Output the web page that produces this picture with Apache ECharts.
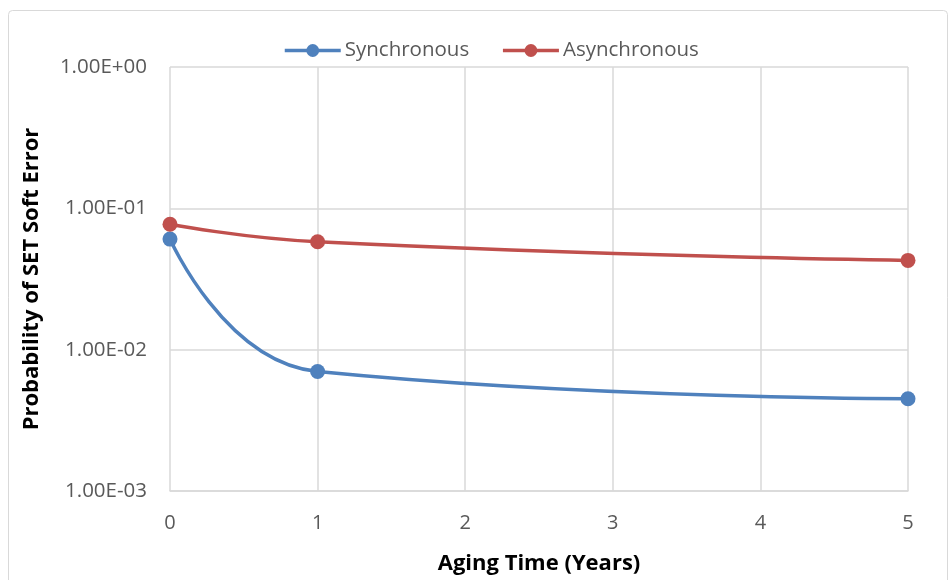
<!DOCTYPE html>
<html>
<head>
<meta charset="utf-8">
<script src="https://cdn.jsdelivr.net/npm/echarts@6/dist/echarts.min.js"></script>
<style>
html,body{margin:0;padding:0;background:#fff;}
#chart{width:950px;height:580px;}
</style>
</head>
<body>
<div id="chart"></div>
<script>
const years = [0, 1, 5];
const synchronous = [0.0606, 0.0070, 0.0045];
const asynchronous = [0.0772, 0.058, 0.0428];
const seriesNames = ['Synchronous', 'Asynchronous'];
const xTitle = 'Aging Time (Years)';
const yTitle = 'Probability of SET Soft Error';

const FONT = '"Open Sans", sans-serif';

function sci(v) {
  const e = Math.round(Math.log10(v));
  const m = v / Math.pow(10, e);
  const s = e < 0 ? '-' : '+';
  const a = Math.abs(e);
  return m.toFixed(2) + 'E' + s + (a < 10 ? '0' + a : '' + a);
}

const chart = echarts.init(document.getElementById('chart'), null, {renderer: 'canvas'});
chart.setOption({
  animation: false,
  backgroundColor: '#fff',
  graphic: [{
    type: 'rect',
    shape: {x: 8.5, y: 10.5, width: 939, height: 600, r: 4},
    style: {fill: 'none', stroke: '#d9d9d9', lineWidth: 1},
    silent: true
  }],
  legend: {
    top: 35,
    left: 278,
    itemWidth: 56,
    itemHeight: 16,
    itemGap: 32,
    lineStyle: {width: 3.5},
    textStyle: {fontFamily: FONT, fontSize: 20.5, color: '#595959', padding: [0, 0, 0, -1]},
    data: seriesNames
  },
  grid: {left: 170, right: 42, top: 67, bottom: 87},
  xAxis: {
    type: 'value',
    min: 0, max: 5, interval: 1,
    name: xTitle,
    nameLocation: 'middle',
    nameGap: 62,
    nameTextStyle: {fontFamily: FONT, fontSize: 22, fontWeight: 'bold', color: '#000'},
    axisLine: {show: true, lineStyle: {color: '#d9d9d9', width: 1.5}},
    axisTick: {show: false},
    splitLine: {show: true, lineStyle: {color: '#d9d9d9', width: 1.5}},
    axisLabel: {fontFamily: FONT, fontSize: 20, color: '#595959', margin: 22}
  },
  yAxis: {
    type: 'log',
    logBase: 10,
    min: 0.001, max: 1,
    name: yTitle,
    nameLocation: 'middle',
    nameGap: 127,
    nameTextStyle: {fontFamily: FONT, fontSize: 22, fontWeight: 'bold', color: '#000'},
    axisLine: {show: false},
    axisTick: {show: false},
    splitLine: {show: true, lineStyle: {color: '#d9d9d9', width: 1.5}},
    axisLabel: {fontFamily: FONT, fontSize: 20.5, color: '#595959', margin: 23, formatter: sci}
  },
  series: [
    {
      name: seriesNames[0],
      type: 'line',
      smooth: 0.5,
      data: years.map((x, i) => [x, synchronous[i]]),
      symbol: 'circle',
      symbolSize: 15,
      itemStyle: {color: '#4f81bd'},
      lineStyle: {color: '#4f81bd', width: 3.5}
    },
    {
      name: seriesNames[1],
      type: 'line',
      smooth: 0.5,
      data: years.map((x, i) => [x, asynchronous[i]]),
      symbol: 'circle',
      symbolSize: 15,
      itemStyle: {color: '#c0504d'},
      lineStyle: {color: '#c0504d', width: 3.5}
    }
  ]
});
</script>
</body>
</html>
